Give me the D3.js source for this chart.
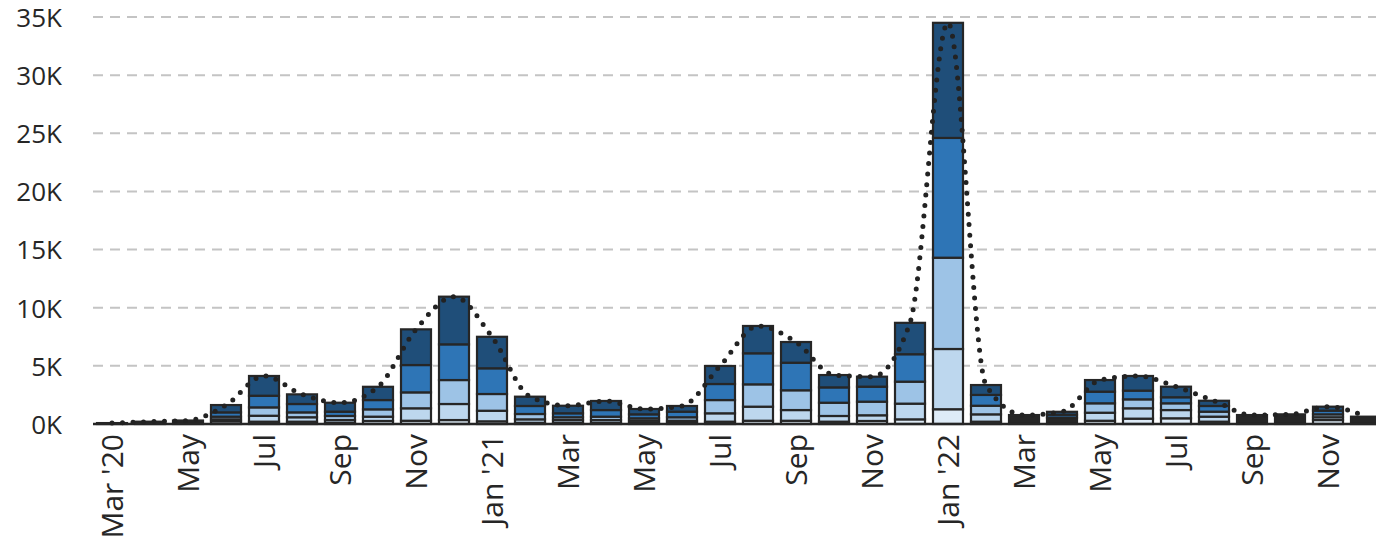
<!DOCTYPE html>
<html>
<head>
<meta charset="utf-8">
<script src="https://cdn.jsdelivr.net/npm/d3@7"></script>
<style>
  body { margin: 0; background: #fff; }
  svg { display: block; }
  .tick text { font-family: "Open Sans", sans-serif; fill: #262626; }
</style>
</head>
<body>
<div id="chart"></div>
<script>
// months Mar 2020 .. Dec 2022
var months = ["2020-03","2020-04","2020-05","2020-06","2020-07","2020-08","2020-09","2020-10","2020-11","2020-12",
  "2021-01","2021-02","2021-03","2021-04","2021-05","2021-06","2021-07","2021-08","2021-09","2021-10","2021-11","2021-12",
  "2022-01","2022-02","2022-03","2022-04","2022-05","2022-06","2022-07","2022-08","2022-09","2022-10","2022-11","2022-12"]

var tickLabels = {"2020-03":"Mar '20","2020-05":"May","2020-07":"Jul","2020-09":"Sep","2020-11":"Nov",
  "2021-01":"Jan '21","2021-03":"Mar","2021-05":"May","2021-07":"Jul","2021-09":"Sep","2021-11":"Nov",
  "2022-01":"Jan '22","2022-03":"Mar","2022-05":"May","2022-07":"Jul","2022-09":"Sep","2022-11":"Nov"}

var yTicks = [0, 5000, 10000, 15000, 20000, 25000, 30000, 35000]

// stacked series, bottom to top
var other = [80,200,300,0,0,0,0,0,0,0,0,0,0,0,0,0,0,0,0,0,0,0,0,0,770,550,0,0,0,0,770,830,0,630]
var s1 = [0,0,0,230,200,200,100,260,280,340,230,100,100,100,80,100,200,280,280,200,260,400,1270,200,0,0,280,460,490,200,0,0,340,0]
var s2 = [0,0,0,170,510,380,240,370,1070,1380,910,300,240,240,200,180,720,1210,920,490,490,1350,5180,630,0,0,690,890,710,430,0,0,240,0]
var s3 = [0,0,0,230,720,420,350,630,1370,2060,1440,460,240,290,210,300,1140,1920,1700,1140,1170,1890,7850,740,0,0,810,770,580,430,0,0,250,0]
var s4 = [0,0,0,370,1000,720,370,800,2350,3070,2210,690,340,570,340,480,1380,2670,2370,1320,1290,2360,10300,930,0,250,1000,750,520,490,0,0,320,0]
var s5 = [0,0,0,630,1700,830,770,1140,3070,4100,2710,800,650,780,460,490,1550,2350,1780,1060,860,2700,9900,850,0,250,1000,1260,910,450,0,0,340,0]

var seriesKeys = ["other","s1","s2","s3","s4","s5"]
var seriesColors = ["#262626","#deebf7","#bdd7ee","#9dc3e6","#2e75b6","#1f4e79"]

var w = 1376, h = 548
var plotLeft = 93, plotTop = 17, plotBase = 424

var rows = months.map(function(m, i){
  return {month: m, other: other[i], s1: s1[i], s2: s2[i], s3: s3[i], s4: s4[i], s5: s5[i]}
})

var svg = d3.select("#chart").append("svg")
  .attr("width", w)
  .attr("height", h)

var x = d3.scaleBand()
  .domain(months)
  .range([plotLeft, plotLeft + 38 * months.length])
  .paddingInner(8/38)
  .paddingOuter(4/38)

var y = d3.scaleLinear()
  .domain([0, 35000])
  .range([plotBase, plotTop])

// grid lines
svg.append("g")
  .selectAll("line")
  .data(yTicks.slice(1))
  .enter()
  .append("line")
  .attr("x1", plotLeft)
  .attr("x2", w)
  .attr("y1", function(d){ return y(d) })
  .attr("y2", function(d){ return y(d) })
  .attr("stroke", "#c4c4c4")
  .attr("stroke-width", 2)
  .attr("stroke-dasharray", "10,7")

// y axis
var yAxis = svg.append("g")
  .attr("transform", "translate(" + (plotLeft - 31) + ",0)")
  .call(d3.axisLeft(y).tickValues(yTicks).tickSize(0).tickPadding(0)
    .tickFormat(function(d){ return (d / 1000) + "K" }))
yAxis.select(".domain").remove()
yAxis.selectAll("text").attr("font-size", "26px").attr("dy", "0.36em")

// stacked bars
var stack = d3.stack().keys(seriesKeys)(rows)

var layers = svg.append("g")
  .selectAll("g")
  .data(stack)
  .enter()
  .append("g")
  .attr("fill", function(d, i){ return seriesColors[i] })

layers.selectAll("rect")
  .data(function(d){ return d.filter(function(p){ return p[1] - p[0] > 0 }) })
  .enter()
  .append("rect")
  .attr("x", function(d){ return x(d.data.month) })
  .attr("width", x.bandwidth())
  .attr("y", function(d){ return y(d[1]) })
  .attr("height", function(d){ return y(d[0]) - y(d[1]) })
  .attr("stroke", "#262626")
  .attr("stroke-width", 2.2)

// x axis
var xAxis = svg.append("g")
  .attr("transform", "translate(0," + plotBase + ")")
  .call(d3.axisBottom(x).tickSize(0).tickPadding(0)
    .tickFormat(function(d){ return tickLabels[d] || "" }))
xAxis.select(".domain")
  .attr("stroke", "#262626")
  .attr("stroke-width", 2.5)
  .attr("d", "M" + plotLeft + ",0H" + w)
xAxis.selectAll("text")
  .attr("font-size", "30px")
  .attr("text-anchor", "end")
  .attr("transform", "rotate(-90)")
  .attr("x", -10)
  .attr("y", 0)
  .attr("dy", "0.36em")

// dotted total line
var totals = rows.map(function(r){
  return {month: r.month, total: d3.sum(seriesKeys, function(k){ return r[k] })}
})

var line = d3.line()
  .x(function(d){ return x(d.month) + x.bandwidth() / 2 })
  .y(function(d){ return y(d.total) })
  .curve(d3.curveMonotoneX)

svg.append("path")
  .datum(totals)
  .attr("d", line)
  .attr("fill", "none")
  .attr("stroke", "#222")
  .attr("stroke-width", 5)
  .attr("stroke-linecap", "round")
  .attr("stroke-dasharray", "0,10.5")
</script>
</body>
</html>
